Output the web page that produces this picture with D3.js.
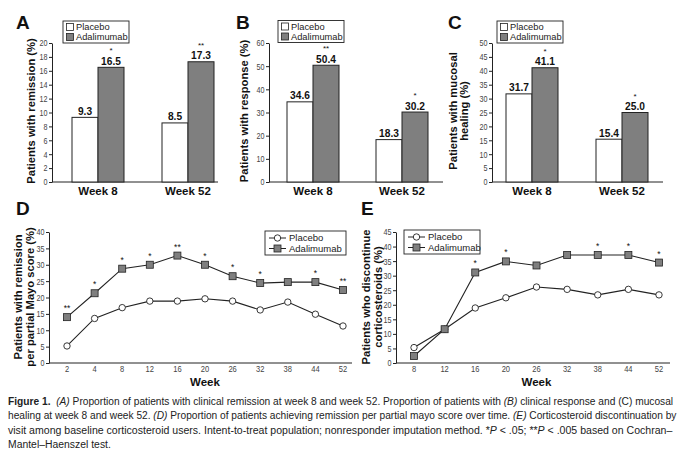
<!DOCTYPE html>
<html><head><meta charset="utf-8">
<script src="https://cdn.jsdelivr.net/npm/d3@7"></script>
<style>
html,body{margin:0;padding:0;background:#fff;}
svg{display:block;font-family:"Liberation Sans",Arial,sans-serif;}
</style></head>
<body>
<svg id="chart" width="690" height="457"></svg>
<script>
// ---------- DATA ----------
const barCategories = ["Week 8", "Week 52"];
const seriesNames = ["Placebo", "Adalimumab"];

const remissionPlacebo = [9.3, 8.5];
const remissionAdalimumab = [16.5, 17.3];
const remissionSig = ["*", "**"];
const remissionTicks = [0, 2, 4, 6, 8, 10, 12, 14, 16, 18, 20];

const responsePlacebo = [34.6, 18.3];
const responseAdalimumab = [50.4, 30.2];
const responseSig = ["**", "*"];
const responseTicks = [0, 10, 20, 30, 40, 50, 60];

const mucosalPlacebo = [31.7, 15.4];
const mucosalAdalimumab = [41.1, 25.0];
const mucosalSig = ["*", "*"];
const mucosalTicks = [0, 5, 10, 15, 20, 25, 30, 35, 40, 45, 50];

const dWeeks = ["2", "4", "8", "12", "16", "20", "26", "32", "38", "44", "52"];
const dPlacebo = [5.2, 13.6, 16.9, 18.9, 18.9, 19.6, 18.9, 16.2, 18.6, 14.9, 11.3];
const dAdalimumab = [14.0, 21.3, 28.8, 30.0, 32.8, 30.0, 26.5, 24.4, 24.7, 24.7, 22.3];
const dSig = ["**", "*", "*", "*", "**", "*", "*", "*", "", "*", "**"];
const dTicks = [0, 5, 10, 15, 20, 25, 30, 35, 40];

const eWeeks = ["8", "12", "16", "20", "26", "32", "38", "44", "52"];
const ePlacebo = [5.3, 11.6, 18.9, 22.4, 26.1, 25.3, 23.4, 25.3, 23.4];
const eAdalimumab = [2.4, 11.6, 31.1, 34.9, 33.5, 37.1, 37.1, 37.1, 34.5];
const eSig = ["", "", "*", "*", "", "", "*", "*", "*"];
const eTicks = [0, 5, 10, 15, 20, 25, 30, 35, 40, 45];

const captionLines = [
  [{b:true,t:"Figure 1."},{t:"\u00a0 "},{i:true,t:"(A)"},{t:" Proportion of patients with clinical remission at week 8 and week 52. Proportion of patients with "},{i:true,t:"(B)"},{t:" clinical response and (C) mucosal"}],
  [{t:"healing at week 8 and week 52. "},{i:true,t:"(D)"},{t:" Proportion of patients achieving remission per partial mayo score over time. "},{i:true,t:"(E)"},{t:" Corticosteroid discontinuation by"}],
  [{t:"visit among baseline corticosteroid users. Intent-to-treat population; nonresponder imputation method. *"},{i:true,t:"P"},{t:" < .05; **"},{i:true,t:"P"},{t:" < .005 based on Cochran\u2013"}],
  [{t:"Mantel\u2013Haenszel test."}]
];
const captionWidths = [665, 669, 665, 103];

// ---------- STYLE ----------
const GRAY = "#7f7f7f";
const svg = d3.select("#chart");

function panelLetter(txt, x, y) {
  svg.append("text").attr("x", x).attr("y", y).text(txt)
    .attr("font-size", 19).attr("font-weight", "bold").attr("fill", "#111");
}

function yLabel(lines, x0, dx, yc) {
  lines.forEach((l, i) => {
    svg.append("text")
      .attr("transform", `translate(${x0 + i * dx},${yc}) rotate(-90)`)
      .attr("text-anchor", "middle").attr("font-size", 11.2).attr("font-weight", "bold")
      .attr("fill", "#111").text(l);
  });
}

function yAxis(y, ticks, x0) {
  const g = svg.append("g").attr("transform", `translate(${x0},0)`)
    .call(d3.axisLeft(y).tickValues(ticks).tickSize(3).tickPadding(1.5).tickSizeOuter(0));
  g.select(".domain").attr("stroke", "#222");
  g.selectAll(".tick line").attr("stroke", "#222");
  g.selectAll(".tick text").attr("font-size", 9).attr("fill", "#444")
    .attr("font-family", "'Liberation Sans',Arial,sans-serif")
    .attr("textLength", d => String(d).length * 4)
    .attr("lengthAdjust", "spacingAndGlyphs");
  return g;
}

function barLegend(x, y) {
  const w = 66, h = 22;
  const g = svg.append("g").attr("transform", `translate(${x},${y})`);
  g.append("rect").attr("width", w).attr("height", h).attr("fill", "#fff").attr("stroke", "#222").attr("stroke-width", 0.9);
  seriesNames.forEach((s, i) => {
    g.append("rect").attr("x", 3.5).attr("y", 2.5 + i * 10).attr("width", 7).attr("height", 7)
      .attr("fill", i ? GRAY : "#fff").attr("stroke", "#222").attr("stroke-width", 0.8);
    g.append("text").attr("x", 13).attr("y", 9.2 + i * 10).attr("font-size", 9.3).attr("fill", "#222").text(s);
  });
}

function lineLegend(x, y, w) {
  const h = 24;
  const g = svg.append("g").attr("transform", `translate(${x},${y})`);
  g.append("rect").attr("width", w).attr("height", h).attr("fill", "#fff").attr("stroke", "#222").attr("stroke-width", 0.9);
  seriesNames.forEach((s, i) => {
    const cy = 7 + i * 10.5;
    g.append("line").attr("x1", 4).attr("x2", 21).attr("y1", cy).attr("y2", cy).attr("stroke", "#222").attr("stroke-width", 1);
    if (i === 0) g.append("circle").attr("cx", 12.5).attr("cy", cy).attr("r", 3.2).attr("fill", "#fff").attr("stroke", "#222").attr("stroke-width", 0.9);
    else g.append("rect").attr("x", 9).attr("y", cy - 3.5).attr("width", 7).attr("height", 7).attr("fill", GRAY).attr("stroke", "#222").attr("stroke-width", 0.8);
    g.append("text").attr("x", 24).attr("y", cy + 3.3).attr("font-size", 9.5).attr("fill", "#222").text(s);
  });
}

function barPanel(o) {
  const y = d3.scaleLinear().domain([0, o.ticks[o.ticks.length - 1]]).range([182, 43]);
  const xg = d3.scalePoint().domain(barCategories).range(o.centers);
  const xs = d3.scaleBand().domain(seriesNames).range([-26, 26]).padding(0);
  svg.append("line").attr("x1", o.x0).attr("x2", o.x1).attr("y1", y(0)).attr("y2", y(0)).attr("stroke", "#222");
  yAxis(y, o.ticks, o.x0);
  const vals = [o.placebo, o.ada];
  barCategories.forEach((c, ci) => {
    seriesNames.forEach((s, si) => {
      const v = vals[si][ci];
      const bx = xg(c) + xs(s);
      svg.append("rect").attr("x", bx).attr("y", y(v)).attr("width", xs.bandwidth()).attr("height", y(0) - y(v))
        .attr("fill", si ? GRAY : "#fff").attr("stroke", "#222").attr("stroke-width", 1);
      svg.append("text").attr("x", bx + xs.bandwidth() / 2).attr("y", y(v) - 2.5).attr("text-anchor", "middle")
        .attr("font-size", 10.2).attr("font-weight", "bold").attr("fill", "#111").text(d3.format(".1f")(v));
      if (si === 1 && o.sig[ci]) {
        svg.append("text").attr("x", bx + xs.bandwidth() / 2).attr("y", y(v) - 14).attr("text-anchor", "middle")
          .attr("font-size", 8).attr("fill", "#111").text(o.sig[ci]);
      }
    });
    svg.append("text").attr("x", xg(c)).attr("y", 195).attr("text-anchor", "middle")
      .attr("font-size", 11.5).attr("font-weight", "bold").attr("fill", "#111").text(c);
  });
}

barPanel({x0: 52, x1: 218, centers: [98, 188], ticks: remissionTicks, placebo: remissionPlacebo, ada: remissionAdalimumab, sig: remissionSig});
barPanel({x0: 269, x1: 443, centers: [313, 402], ticks: responseTicks, placebo: responsePlacebo, ada: responseAdalimumab, sig: responseSig});
barPanel({x0: 492, x1: 663, centers: [532, 622], ticks: mucosalTicks, placebo: mucosalPlacebo, ada: mucosalAdalimumab, sig: mucosalSig});
barLegend(63, 21);
barLegend(278, 20.5);
barLegend(497, 21);

panelLetter("A", 16, 29);
panelLetter("B", 236, 29);
panelLetter("C", 448, 29);
yLabel(["Patients with remission (%)"], 35, 0, 111);
yLabel(["Patients with response (%)"], 248, 0, 111);
yLabel(["Patients with mucosal", "healing (%)"], 457, 11, 111);

function linePanel(o) {
  const y = d3.scaleLinear().domain([0, o.ticks[o.ticks.length - 1]]).range([363, 232]);
  const x = d3.scalePoint().domain(o.weeks).range(o.xr);
  svg.append("line").attr("x1", o.x0).attr("x2", o.x1).attr("y1", y(0)).attr("y2", y(0)).attr("stroke", "#222");
  yAxis(y, o.ticks, o.x0);
  o.weeks.forEach(w => {
    svg.append("text").attr("x", x(w)).attr("y", 372).attr("text-anchor", "middle")
      .attr("font-size", 9).attr("fill", "#444").text(w)
      .attr("textLength", w.length * 4.2).attr("lengthAdjust", "spacingAndGlyphs");
  });
  svg.append("text").attr("x", (o.xr[0] + o.xr[1]) / 2).attr("y", 386).attr("text-anchor", "middle")
    .attr("font-size", 11.5).attr("font-weight", "bold").attr("fill", "#111").text("Week");
  const line = d3.line().x((d, i) => x(o.weeks[i])).y(d => y(d));
  [o.placebo, o.ada].forEach(arr => {
    svg.append("path").attr("d", line(arr)).attr("fill", "none").attr("stroke", "#222").attr("stroke-width", 1.1);
  });
  o.placebo.forEach((v, i) => {
    svg.append("circle").attr("cx", x(o.weeks[i])).attr("cy", y(v)).attr("r", 3.2)
      .attr("fill", "#fff").attr("stroke", "#222").attr("stroke-width", 0.9);
  });
  o.ada.forEach((v, i) => {
    svg.append("rect").attr("x", x(o.weeks[i]) - 3.5).attr("y", y(v) - 3.5).attr("width", 7).attr("height", 7)
      .attr("fill", GRAY).attr("stroke", "#222").attr("stroke-width", 0.8);
    if (o.sig[i]) svg.append("text").attr("x", x(o.weeks[i])).attr("y", y(v) - 6).attr("text-anchor", "middle")
      .attr("font-size", 8.5).attr("fill", "#111").text(o.sig[i]);
  });
}

linePanel({x0: 49, x1: 352, xr: [67, 343], weeks: dWeeks, ticks: dTicks, placebo: dPlacebo, ada: dAdalimumab, sig: dSig});
linePanel({x0: 396, x1: 670, xr: [414, 659], weeks: eWeeks, ticks: eTicks, placebo: ePlacebo, ada: eAdalimumab, sig: eSig});
lineLegend(265, 231, 81);
lineLegend(404, 230, 76);

panelLetter("D", 16, 215);
panelLetter("E", 361, 215);
yLabel(["Patients with remission", "per partial Mayo score (%)"], 22, 12, 297);
yLabel(["Patients who discontinue", "corticosteroids (%)"], 370, 11.5, 297);

// ---------- CAPTION ----------
captionLines.forEach((parts, li) => {
  const g = svg.append("g");
  const t = g.append("text").attr("x", 0).attr("y", 0)
    .attr("font-size", 10.8).attr("fill", "#222");
  parts.forEach(p => {
    const ts = t.append("tspan").text(p.t);
    if (p.b) ts.attr("font-weight", "bold");
    if (p.i) ts.attr("font-style", "italic");
  });
  const w = t.node().getComputedTextLength();
  const sx = captionWidths[li] / w;
  g.attr("transform", `translate(8,${405 + li * 14.3}) scale(${sx},1)`);
});
</script>
</body></html>
